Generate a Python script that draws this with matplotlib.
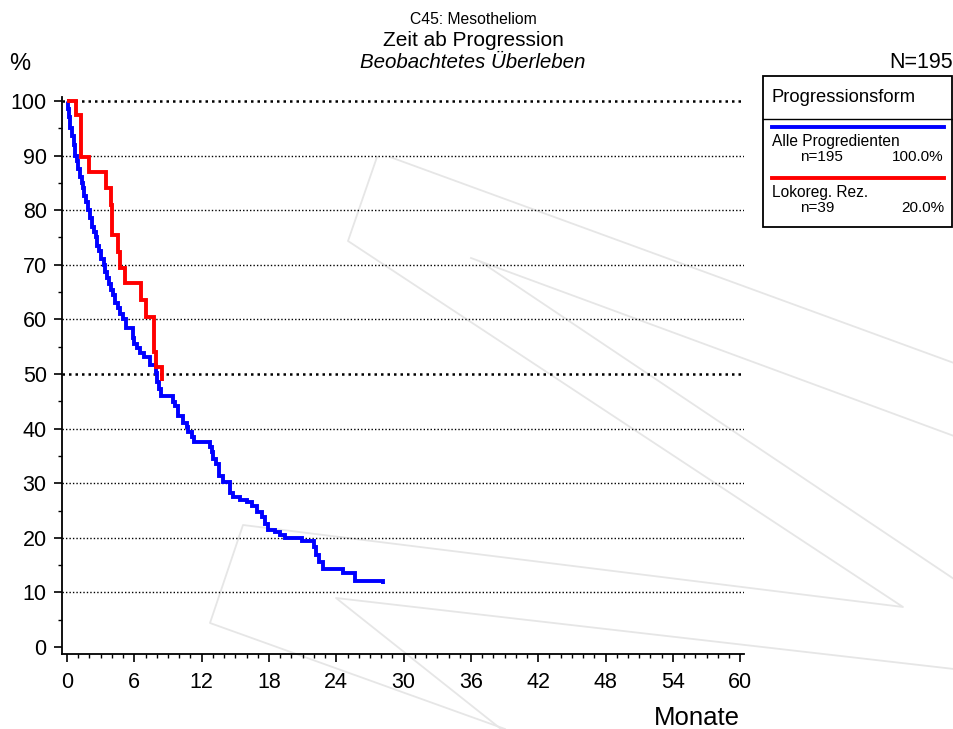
import matplotlib
matplotlib.use("Agg")
import matplotlib.pyplot as plt
from matplotlib.lines import Line2D
from matplotlib.ticker import MultipleLocator

plt.rcParams['font.family'] = ['Liberation Sans', 'DejaVu Sans']

# ---- data ----
months_all = [0, 0.1, 0.2, 0.3, 0.45, 0.6, 0.7, 0.85, 1.0, 1.15, 1.3, 1.4, 1.55, 1.7, 1.9,
              2.05, 2.2, 2.4, 2.6, 2.7, 2.85, 3.05, 3.25, 3.4, 3.55, 3.75, 3.95, 4.1, 4.3,
              4.5, 4.7, 4.95, 5.25, 5.85, 6.0, 6.2, 6.5, 6.9, 7.4, 7.9, 8.05, 8.2, 8.4,
              9.4, 9.6, 9.9, 10.35, 10.65, 10.8, 11.1, 11.3, 12.7, 12.9, 13.0, 13.3,
              13.55, 13.9, 14.5, 14.8, 15.4, 16.0, 16.45, 16.9, 17.35, 17.65, 17.95,
              18.5, 19.0, 19.4, 20.9, 22.0, 22.2, 22.45, 22.8, 24.6, 25.65, 28.2]
surv_all = [100, 98.5, 97, 95, 93.5, 92, 90, 89, 87.5, 86, 85, 84, 82.6, 81.5, 80,
            78.5, 77, 76, 75, 73.5, 72.5, 71, 70, 68.7, 67.5, 66.5, 65.4, 64.5, 63,
            62, 61, 60, 58.4, 56.5, 55.5, 54.7, 53.9, 53.1, 51.7, 50.2, 48.5, 47.2, 45.9,
            44.9, 44.1, 42.3, 41.1, 40.3, 39.3, 38.5, 37.5, 36.6, 35.7, 34.5, 33.5,
            31.4, 30.3, 28.2, 27.5, 27.0, 26.5, 25.8, 24.8, 23.9, 22.5, 21.5,
            21.0, 20.5, 20.0, 19.4, 18.3, 16.9, 15.5, 14.3, 13.5, 12.0, 11.5]

months_lok = [0, 0.8, 1.2, 2.0, 3.45, 3.9, 4.0, 4.5, 4.75, 5.2, 6.6, 7.05, 7.75, 7.9, 8.45]
surv_lok = [100, 97.4, 89.7, 87.0, 84.0, 81.0, 75.4, 72.4, 69.4, 66.7, 63.5, 60.5, 54.0, 51.3, 48.7]

series_names = ["Alle Progredienten", "Lokoreg. Rez."]
series_n = ["n=195", "n=39"]
series_pct = ["100.0%", "20.0%"]
series_colors = ["#0000ff", "#ff0000"]

x_ticks = [0, 6, 12, 18, 24, 30, 36, 42, 48, 54, 60]
y_ticks = [0, 10, 20, 30, 40, 50, 60, 70, 80, 90, 100]
grid_levels = [10, 20, 30, 40, 50, 60, 70, 80, 90, 100]

W, H = 954, 729
fig = plt.figure(figsize=(W / 100, H / 100), dpi=100)


def fx(px):
    return px / W


def fy(py):
    return 1 - py / H


# ---- faint watermark (decoration) ----
watermark = [
    [(377, 157), (348, 241), (903, 607), (243, 525), (210, 623), (505, 729)],
    [(390, 157), (954, 363)],
    [(471, 258), (954, 436)],
    [(481, 262), (954, 579)],
    [(954, 669), (336, 598), (501, 729)],
]
for poly in watermark:
    xs = [fx(p[0]) for p in poly]
    ys = [fy(p[1]) for p in poly]
    fig.add_artist(Line2D(xs, ys, transform=fig.transFigure, color="#e6e6e6",
                          lw=1.3, zorder=-5))

# ---- axes ----
left_px, right_px, top_px, bottom_px = 62, 743.6, 96.6, 654
ax = fig.add_axes([fx(left_px), fy(bottom_px), fx(right_px - left_px),
                   (bottom_px - top_px) / H])
ax.patch.set_alpha(0)
ax.set_xlim(-0.45, 60.3)
ax.set_ylim(-1.28, 100.8)

for lvl in grid_levels:
    bold = lvl in (50, 100)
    ax.axhline(lvl, color="black", lw=1.8 if bold else 1.0,
               ls=(0, (1, 1.6)) if bold else (0, (1, 1.5)), zorder=1)


def step_xy(t, s):
    xs, ys = [t[0]], [s[0]]
    for i in range(1, len(t)):
        xs += [t[i], t[i]]
        ys += [s[i - 1], s[i]]
    return xs, ys


for t, s, c in [(months_all, surv_all, series_colors[0]),
                (months_lok, surv_lok, series_colors[1])]:
    xs, ys = step_xy(t, s)
    ax.plot(xs, ys, color=c, lw=2.8, solid_joinstyle="miter",
            solid_capstyle="butt", zorder=3)

for sp in ("top", "right"):
    ax.spines[sp].set_visible(False)
for sp in ("left", "bottom"):
    ax.spines[sp].set_linewidth(1.3)

ax.set_xticks(x_ticks)
ax.set_yticks(y_ticks)
ax.xaxis.set_minor_locator(MultipleLocator(1))
ax.yaxis.set_minor_locator(MultipleLocator(5))
ax.tick_params(axis="both", which="major", direction="out", length=6, width=1.2,
               labelsize=15.5, pad=5)
ax.tick_params(axis="both", which="minor", direction="out", length=3, width=1.0)
ax.tick_params(axis="x", which="major", pad=7)

# ---- texts ----
fig.text(fx(473), fy(24), "C45: Mesotheliom", ha="center", va="baseline", fontsize=11.3)
fig.text(fx(473), fy(46), "Zeit ab Progression", ha="center", va="baseline", fontsize=15)
fig.text(fx(473), fy(68), "Beobachtetes Überleben", ha="center", va="baseline",
         fontsize=14.8, style="italic")
fig.text(fx(9), fy(70), "%", ha="left", va="baseline", fontsize=17)
fig.text(fx(953), fy(68), "N=195", ha="right", va="baseline", fontsize=15.5)
fig.text(fx(740), fy(725), "Monate", ha="right", va="baseline", fontsize=18.5)

# ---- legend box ----
box_l, box_r, box_t, box_b = 763, 952, 76, 227
fig.add_artist(plt.Rectangle((fx(box_l), fy(box_b)), fx(box_r - box_l), (box_b - box_t) / H,
                             transform=fig.transFigure, fill=False, ec="black", lw=1.3))
fig.add_artist(Line2D([fx(box_l), fx(box_r)], [fy(119), fy(119)],
                      transform=fig.transFigure, color="black", lw=1.0))
fig.text(fx(772), fy(102), "Progressionsform", ha="left", va="baseline", fontsize=13.2)

row_y = [127, 177.5]
for i in range(2):
    y0 = row_y[i]
    fig.add_artist(Line2D([fx(772), fx(944)], [fy(y0), fy(y0)],
                          transform=fig.transFigure, color=series_colors[i], lw=2.8))
    fig.text(fx(772), fy(y0 + 19), series_names[i], ha="left", va="baseline", fontsize=11.2)
    fig.text(fx(800), fy(y0 + 34), series_n[i], ha="left", va="baseline", fontsize=11)
    fig.text(fx(944), fy(y0 + 34), series_pct[i], ha="right", va="baseline", fontsize=11)

fig.savefig("out.png", dpi=100)
